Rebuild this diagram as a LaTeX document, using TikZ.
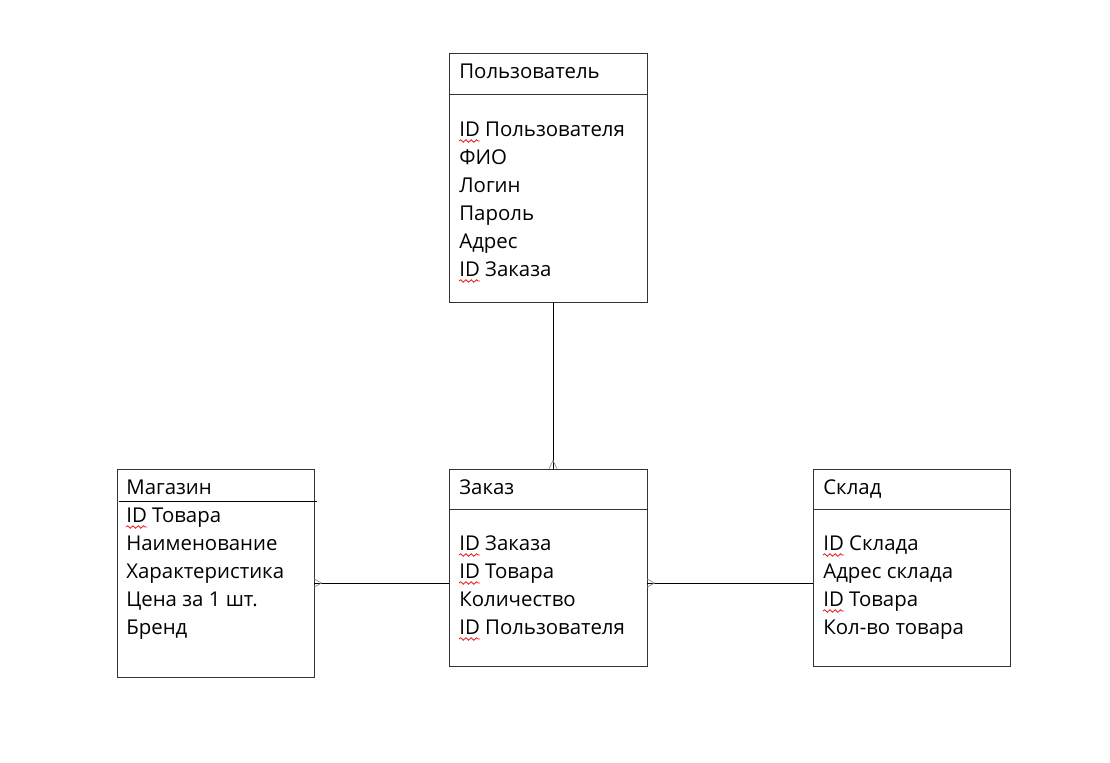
\documentclass[tikz,border=0pt]{standalone}
\usepackage{fontspec}
\setmainfont{Open Sans}
\usetikzlibrary{calc,decorations.pathmorphing}
\definecolor{boxGray}{RGB}{51, 51, 51}
\definecolor{footGray}{RGB}{140, 140, 140}
\definecolor{spellRed}{RGB}{230, 40, 40}

\tikzset{
	entity/.style={draw=boxGray, rectangle, inner sep=0pt, minimum width=3.96cm},
	title/.style={anchor=base west, inner sep=0pt, font=\fontsize{11.6}{15}\selectfont},
	field/.style={anchor=base west, inner sep=0pt, font=\fontsize{11.6}{15}\selectfont},
	foot/.style={draw=footGray, line width=0.4pt},
	squig/.style={draw=spellRed, line width=0.5pt, decorate, decoration={snake, amplitude=0.7pt, segment length=3pt}}
}

\begin{document}
\begin{tikzpicture}
		\useasboundingbox (0,0) rectangle (22.2,-15.24);

		% entities
		\draw (10.96,-3.55) node[entity, minimum height=4.98cm] (user) {};
		\draw (10.96,-11.35) node[entity, minimum height=3.94cm] (order) {};
		\draw (18.23,-11.35) node[entity, minimum width=3.94cm, minimum height=3.94cm] (stock) {};
		\draw (4.31,-11.46) node[entity, minimum width=3.94cm, minimum height=4.16cm] (shop) {};

		\draw[boxGray] ($(user.north west)+(0,-0.84)$) -- ($(user.north east)+(0,-0.84)$);
		\draw[boxGray] ($(order.north west)+(0,-0.82)$) -- ($(order.north east)+(0,-0.82)$);
		\draw[boxGray] ($(stock.north west)+(0,-0.82)$) -- ($(stock.north east)+(0,-0.82)$);
		\draw ($(shop.north west)+(0.04,-0.66)$) -- ($(shop.north east)+(0.06,-0.66)$);

		% Пользователь
		\draw (9.18,-1.56) node[title] (userT) {Пользователь};
		\draw (9.18,-2.72) node[field] (user1) {ID Пользователя};
		\draw (9.18,-3.28) node[field] (user2) {ФИО};
		\draw (9.18,-3.84) node[field] (user3) {Логин};
		\draw (9.18,-4.40) node[field] (user4) {Пароль};
		\draw (9.18,-4.96) node[field] (user5) {Адрес};
		\draw (9.18,-5.52) node[field] (user6) {ID Заказа};

		% Заказ
		\draw (9.18,-9.88) node[title] (orderT) {Заказ};
		\draw (9.18,-11.0) node[field] (order1) {ID Заказа};
		\draw (9.18,-11.56) node[field] (order2) {ID Товара};
		\draw (9.18,-12.12) node[field] (order3) {Количество};
		\draw (9.18,-12.68) node[field] (order4) {ID Пользователя};

		% Склад
		\draw (16.46,-9.88) node[title] (stockT) {Склад};
		\draw (16.46,-11.0) node[field] (stock1) {ID Склада};
		\draw (16.46,-11.56) node[field] (stock2) {Адрес склада};
		\draw (16.46,-12.12) node[field] (stock3) {ID Товара};
		\draw (16.46,-12.68) node[field] (stock4) {Кол-во товара};

		% Магазин
		\draw (2.52,-9.88) node[title] (shopT) {Магазин};
		\draw (2.52,-10.44) node[field] (shop1) {ID Товара};
		\draw (2.52,-11.0) node[field] (shop2) {Наименование};
		\draw (2.52,-11.56) node[field] (shop3) {Характеристика};
		\draw (2.52,-12.12) node[field] (shop4) {Цена за 1 шт.};
		\draw (2.52,-12.68) node[field] (shop5) {Бренд};

		% spelling marks under ID
		\foreach \n in {user1,user6,order1,order2,order4,stock1,stock3,shop1}
			\draw[squig] ($(\n.base west)+(0,-0.1)$) -- ($(\n.base west)+(0.42,-0.1)$);

		% links
		\coordinate (userLink) at ($(user.south)+(0.1,0)$);
		\coordinate (orderTop) at ($(order.north)+(0.1,0)$);
		\coordinate (orderLeft) at ($(order.west)+(0,-0.31)$);
		\coordinate (orderRight) at ($(order.east)+(0,-0.31)$);
		\coordinate (shopRight) at (shop.east |- orderLeft);
		\coordinate (stockLeft) at (stock.west |- orderRight);

		\path[-]
		(userLink) edge (orderTop)
		(shopRight) edge (orderLeft)
		(orderRight) edge (stockLeft)
		;

		% crow's feet
		\draw[foot] ($(orderTop)+(-0.08,0)$) -- ($(orderTop)+(0,0.16)$) -- ($(orderTop)+(0.08,0)$);
		\draw[foot] ($(shopRight)+(0,0.08)$) -- ($(shopRight)+(0.14,0)$) -- ($(shopRight)+(0,-0.08)$);
		\draw[foot] ($(orderRight)+(0,0.08)$) -- ($(orderRight)+(0.14,0)$) -- ($(orderRight)+(0,-0.08)$);
		\end{tikzpicture}
\end{document}
